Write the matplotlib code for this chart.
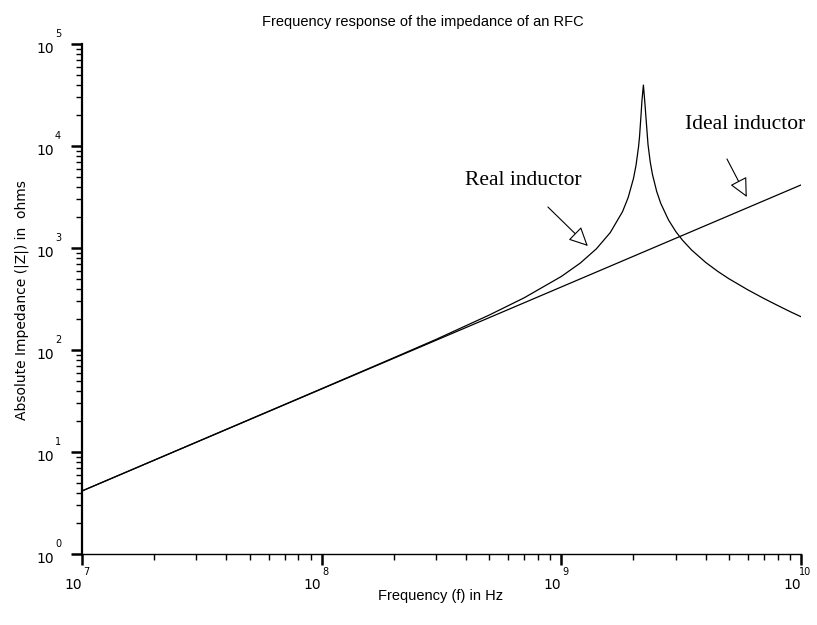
"""
Frequency response of the impedance of an RFC (ideal vs real inductor).
Log-log plot with Scilab-like axes and hand-placed annotations.
"""

import matplotlib
matplotlib.use('Agg')
import matplotlib.pyplot as plt
from matplotlib.ticker import LogLocator, NullFormatter

# ==========================================
# --- DATA ---
# ==========================================

# Ideal inductor: straight line on log-log axes
FREQ_IDEAL = [1e7, 1e10]
Z_IDEAL = [4.15, 4150]

# Real inductor: follows the ideal line, then self-resonance near 2.2 GHz
FREQ_REAL = [1e7, 3e7, 1e8, 2e8, 3e8, 5e8, 7e8, 1e9, 1.2e9, 1.4e9, 1.6e9,
             1.8e9, 1.9e9, 2.0e9, 2.05e9, 2.1e9, 2.12e9, 2.15e9, 2.17e9,
             2.2e9, 2.23e9, 2.25e9, 2.3e9, 2.35e9, 2.4e9, 2.5e9, 2.6e9,
             2.8e9, 3e9, 3.2e9, 3.5e9, 4e9, 4.5e9, 5e9, 6e9, 7e9, 8e9,
             9e9, 1e10]
Z_REAL = [4.15, 12.5, 41.8, 84, 127, 220, 325, 526, 712, 981, 1416,
          2270, 3118, 4804, 6490, 9860, 12380, 19970, 28000,
          39600, 27000, 20390, 10310, 6950, 5265, 3580, 2733,
          1884, 1455, 1196, 953, 723, 589, 500, 389, 320, 273,
          238, 212]

X_DECADES = [7, 8, 9, 10]
Y_DECADES = [0, 1, 2, 3, 4, 5]

TITLE = "Frequency response of the impedance of an RFC"
X_LABEL = "Frequency (f) in Hz"
Y_LABEL = "Absolute Impedance (|Z|) in  ohms"

# ==========================================
# --- FIGURE ---
# ==========================================

fig = plt.figure(figsize=(8.17, 6.25), dpi=100)
ax = fig.add_axes([0.1004, 0.1136, 0.8800, 0.8160])

ax.loglog(FREQ_IDEAL, Z_IDEAL, color='black', lw=0.9)
ax.loglog(FREQ_REAL, Z_REAL, color='black', lw=0.9)

ax.set_xlim(10.0 ** X_DECADES[0], 10.0 ** X_DECADES[-1])
ax.set_ylim(10.0 ** Y_DECADES[0], 10.0 ** Y_DECADES[-1])

# Scilab-ish axes: only left and bottom, outward ticks
for side in ['top', 'right']:
    ax.spines[side].set_visible(False)
ax.spines['left'].set_linewidth(1.6)
ax.spines['bottom'].set_linewidth(1.0)

ax.set_xticks([10.0 ** e for e in X_DECADES])
ax.set_yticks([10.0 ** e for e in Y_DECADES])
ax.xaxis.set_minor_locator(LogLocator(base=10, subs=range(2, 10), numticks=20))
ax.yaxis.set_minor_locator(LogLocator(base=10, subs=range(2, 10), numticks=20))
ax.xaxis.set_minor_formatter(NullFormatter())
ax.yaxis.set_minor_formatter(NullFormatter())
ax.set_xticklabels([])
ax.set_yticklabels([])
ax.tick_params(which='major', direction='out', length=8, width=1.8, color='black')
ax.tick_params(which='minor', direction='out', length=4, width=1.0, color='black')

# Tick labels drawn as "10" with a detached exponent
for e in X_DECADES:
    ax.annotate('10', xy=(10.0 ** e, 0), xycoords=('data', 'axes fraction'),
                xytext=(-9, -31), textcoords='offset pixels',
                ha='center', va='center', fontsize=10, family='DejaVu Sans')
    ax.annotate(str(e), xy=(10.0 ** e, 0), xycoords=('data', 'axes fraction'),
                xytext=(4, -18), textcoords='offset pixels',
                ha='center', va='center', fontsize=7, family='DejaVu Sans')

for e in Y_DECADES:
    ax.annotate('10', xy=(0, 10.0 ** e), xycoords=('axes fraction', 'data'),
                xytext=(-37, -5), textcoords='offset pixels',
                ha='center', va='center', fontsize=10, family='DejaVu Sans')
    ax.annotate(str(e), xy=(0, 10.0 ** e), xycoords=('axes fraction', 'data'),
                xytext=(-24, 10), textcoords='offset pixels',
                ha='center', va='center', fontsize=7, family='DejaVu Sans')

# Title and axis labels placed in figure pixels
fig.text(423 / 817, 1 - 22 / 625, TITLE, fontsize=10.5, family='Liberation Sans',
         ha='center', va='center')
fig.text(441 / 817, 1 - 596 / 625, X_LABEL, fontsize=10.5, family='Liberation Sans',
         ha='center', va='center')
fig.text(22 / 817, 1 - 300 / 625, Y_LABEL, fontsize=10, family='DejaVu Sans',
         ha='center', va='center', rotation=90)

# Curve annotations with open arrow heads
arrow_style = dict(arrowstyle='-|>,head_length=0.45,head_width=0.22',
                   fc='white', ec='black', lw=0.8, mutation_scale=26,
                   shrinkA=0, shrinkB=0)

ax.text(3.96e8, 4640, "Real inductor", fontsize=15.5,
        family='Liberation Serif', ha='left', va='center')
ax.annotate('', xy=(1.29e9, 1046), xytext=(8.79e8, 2523),
            arrowprops=arrow_style)

ax.text(3.28e9, 16430, "Ideal inductor", fontsize=15.5,
        family='Liberation Serif', ha='left', va='center')
ax.annotate('', xy=(5.94e9, 3162), xytext=(4.91e9, 7460),
            arrowprops=arrow_style)

fig.savefig('out.png', dpi=100)
plt.close(fig)
